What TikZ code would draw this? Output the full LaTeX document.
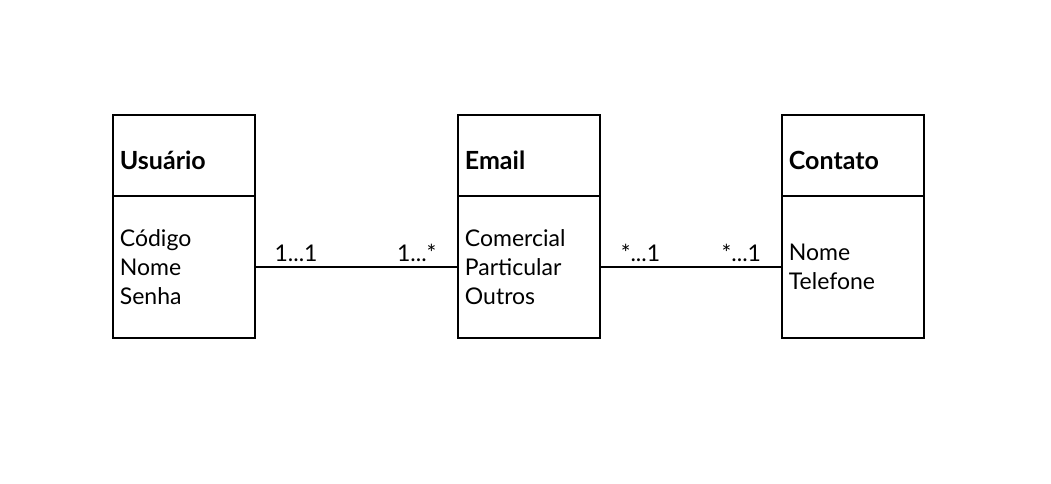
\documentclass[tikz,border=0pt]{standalone}
\usepackage{fontspec}
\setmainfont{Lato}
\usetikzlibrary{positioning}

\tikzset{
  classhead/.style={draw, line width=1.8pt, anchor=north west, minimum width=142pt, minimum height=81pt,
    text width=128pt, text height=28pt, text depth=0pt, align=left, inner sep=7pt,
    font=\fontsize{25}{30}\selectfont\bfseries},
  classbody/.style={draw, line width=1.8pt, minimum width=142pt, minimum height=142pt,
    text width=128pt, align=left, inner sep=7pt, font=\fontsize{23}{29}\selectfont},
  assoc/.style={line width=1.8pt},
  mult/.style={above=1pt, font=\fontsize{23}{27}\selectfont}
}

\begin{document}
\begin{tikzpicture}[x=1pt,y=-1pt]
  \useasboundingbox (0,0) rectangle (1051,484);

  % Classes
  \node[classhead] (usuario) at (112,114) {Usuário};
  \node[classbody, below=-1.8pt of usuario] (usuarioBody) {Código\\Nome\\Senha};

  \node[classhead] (email) at (457,114) {Email};
  \node[classbody, below=-1.8pt of email] (emailBody) {Comercial\\Particular\\Outros};

  \node[classhead] (contato) at (781,114) {Contato};
  \node[classbody, below=-1.8pt of contato] (contatoBody) {Nome\\Telefone};

  % Associations
  \draw[assoc] (usuarioBody.east) -- node[mult, pos=0.2] {1...1} node[mult, pos=0.8] {1...*} (emailBody.west);
  \draw[assoc] (emailBody.east) -- node[mult, pos=0.22] {*...1} node[mult, pos=0.78] {*...1} (contatoBody.west);
\end{tikzpicture}
\end{document}
